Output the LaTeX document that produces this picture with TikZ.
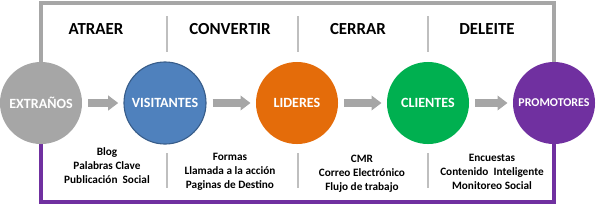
\documentclass[tikz,border=0pt]{standalone}
\usepackage{fontspec}
\setmainfont{Carlito}
\usepackage{xcolor}
\usepackage{tikz}
\usetikzlibrary{arrows.meta}
\definecolor{funnelgray}{HTML}{A6A6A6}
\definecolor{funnelblue}{HTML}{4F81BD}
\definecolor{funnelblueline}{HTML}{385D8A}
\definecolor{funnelorange}{HTML}{E46C0A}
\definecolor{funnelgreen}{HTML}{00B050}
\definecolor{funnelpurple}{HTML}{7030A0}
\definecolor{funnelsep}{HTML}{BFBFBF}

\begin{document}
\begin{tikzpicture}[x=0.025cm, y=-0.025cm,
        stage/.style={circle, minimum size=2.05cm, inner sep=0pt,
                      text=white, font=\bfseries\fontsize{10}{12}\selectfont},
        phase/.style={font=\bfseries\fontsize{12}{14}\selectfont},
        tools/.style={align=center, font=\bfseries\fontsize{8}{10}\selectfont},
        sep/.style={funnelsep, line width=1.6pt},
        flow/.style={funnelgray, line width=5pt,
                     -{Triangle[length=0.25cm, width=0.36cm]},
                     shorten <=0.15cm, shorten >=0.13cm},
    ]
        \useasboundingbox (0,0) rectangle (600,206);

        % Frame
        \draw[funnelgray, line width=2.2pt] (41,103) -- (41,3) -- (554,3) -- (554,103);
        \draw[funnelpurple, line width=2.2pt] (41,103) -- (41,202) -- (554,202) -- (554,103);

        % Separators
        \foreach \x in {167,298,428} {
            \draw[sep] (\x,16) -- (\x,52);
            \draw[sep] (\x,153) -- (\x,188);
        }

        % Stages
        \node[stage, fill=funnelgray] (extr) at (41,103) {EXTRAÑOS};
        \node[stage, fill=funnelblue, draw=funnelblueline, line width=0.8pt] (visit) at (165,103) {VISITANTES};
        \node[stage, fill=funnelorange] (lead) at (297,103) {LIDERES};
        \node[stage, fill=funnelgreen] (client) at (428,103) {CLIENTES};
        \node[stage, fill=funnelpurple, font=\bfseries\fontsize{8.5}{10}\selectfont] (promo) at (554,103) {PROMOTORES};

        % Phases
        \node[phase] (attract) at (96,29) {ATRAER};
        \node[phase] (convert) at (230,29) {CONVERTIR};
        \node[phase] (close) at (358,29) {CERRAR};
        \node[phase] (delight) at (487,29) {DELEITE};

        % Tools
        \node[tools] (toolsA) at (107,166) {Blog\\Palabras Clave\\Publicación\ \ Social};
        \node[tools] (toolsB) at (230,172) {Formas\\Llamada a la acción\\Paginas de Destino};
        \node[tools] (toolsC) at (362,174) {CMR\\Correo Electrónico\\Flujo de trabajo};
        \node[tools] (toolsD) at (492,172) {Encuestas\\Contenido\ \ Inteligente\\Monitoreo Social};

        % Arrows
        \draw[flow] (extr)   -- (visit);
        \draw[flow] (visit)  -- (lead);
        \draw[flow] (lead)   -- (client);
        \draw[flow] (client) -- (promo);
    \end{tikzpicture}
\end{document}
